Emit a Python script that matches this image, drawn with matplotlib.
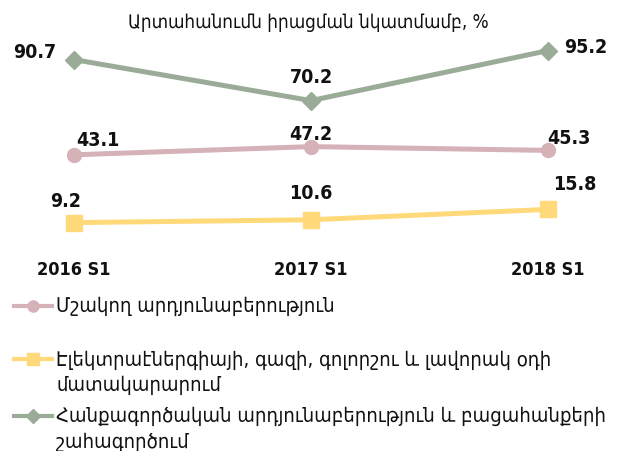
import matplotlib.pyplot as plt
from matplotlib.lines import Line2D

plt.rcParams['font.family'] = ['DejaVu Sans']
plt.rcParams['font.stretch'] = 'condensed'

# data
categories = ['2016 S1', '2017 S1', '2018 S1']
manufacturing = [43.1, 47.2, 45.3]
electricity = [9.2, 10.6, 15.8]
mining = [90.7, 70.2, 95.2]

title = 'Արտահանումն իրացման նկատմամբ, %'
lab_manuf = 'Մշակող արդյունաբերություն'
lab_elec = 'Էլեկտրաէներգիայի, գազի, գոլորշու և լավորակ օդի\nմատակարարում'
lab_mining = 'Հանքագործական արդյունաբերություն և բացահանքերի\nշահագործում'

c_manuf = '#d4b2b8'
c_elec = '#ffd97a'
c_mining = '#9aab98'

W, H = 617, 452
fig = plt.figure(figsize=(W / 100, H / 100), dpi=100)
ax = fig.add_axes([0, (H - 242) / H, 1, 220 / H])
ax.set_xlim(-74 / 237, 2 + 69 / 237)
ax.set_ylim(0, 110)
for s in ax.spines.values():
    s.set_visible(False)
ax.set_yticks([])

x = range(len(categories))
series = [
    (mining, c_mining, 'D', 9, [(-28, 6), (0, 17), (27, 3)]),
    (manufacturing, c_manuf, 'o', 10, [(17, 11), (0, 9.5), (15, 9)]),
    (electricity, c_elec, 's', 11, [(-6, 16), (0, 20), (19, 19)]),
]
for vals, col, mk, ms, offs in series:
    ax.plot(x, vals, color=col, lw=3.6, marker=mk, ms=ms, mec=col, mfc=col,
            clip_on=False)
    for xi, v, off in zip(x, vals, offs):
        ax.annotate(f'{v:.1f}', (xi, v), xytext=off, textcoords='offset points',
                    ha='center', va='center', fontsize=14, fontweight='bold',
                    color='#111111')

ax.set_xticks(list(x))
ax.set_xticklabels(categories, fontsize=13, fontweight='bold', color='#111111')
ax.tick_params(axis='x', length=0, pad=14)

fig.text(308 / W, 1 - 22 / H, title, ha='center', va='center', fontsize=13.5,
         color='#111111')

# legend drawn by hand to mimic the wrapped Excel layout
legend_items = [
    (lab_manuf, c_manuf, 'o', 8, 307),
    (lab_elec, c_elec, 's', 9, 360),
    (lab_mining, c_mining, 'D', 7, 417),
]
for lab, col, mk, ms, ypx in legend_items:
    yf = 1 - ypx / H
    fig.add_artist(Line2D([14 / W, 52 / W], [yf, yf], color=col, lw=3,
                          transform=fig.transFigure))
    fig.add_artist(Line2D([33 / W], [yf], color=col, marker=mk, ms=ms, mec=col,
                          mfc=col, transform=fig.transFigure))
    fig.text(56 / W, yf + 10 / H, lab, ha='left', va='top', fontsize=14.5,
             color='#111111', linespacing=1.4)

fig.savefig('out.png', dpi=100)
